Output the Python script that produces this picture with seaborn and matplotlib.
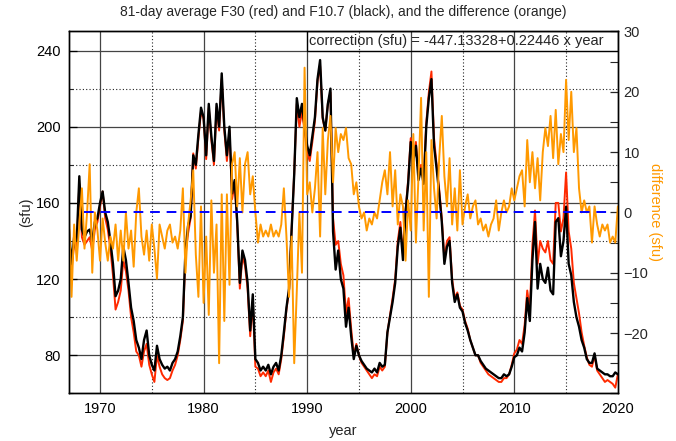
import numpy as np
import pandas as pd
import matplotlib
matplotlib.use("Agg")
import matplotlib.pyplot as plt
from matplotlib.patches import Rectangle
from matplotlib.ticker import MultipleLocator, FixedLocator
import seaborn as sns

# ---------------- data (quarterly samples) ----------------
year_start = 1967.0
year_step = 0.25

f107 = [
    146, 128, 142, 140,   174, 146, 142, 145,   146, 140, 150, 152,   160, 166, 155, 150,   # 1967-1970
    140, 128, 111, 114,   120, 137, 130, 118,   105, 98, 88, 84,      78, 88, 93, 80,       # 1971-1974
    75, 72, 85, 78,       75, 73, 74, 72,       76, 78, 82, 90,       100, 135, 148, 153,   # 1975-1978
    185, 180, 196, 210,   205, 185, 212, 195,   182, 212, 200, 228,   200, 185, 200, 165,   # 1979-1982
    172, 150, 118, 135,   130, 118, 93, 112,    78, 76, 72, 74,       72, 75, 70, 74,       # 1983-1986
    76, 72, 80, 92,       105, 115, 146, 175,   215, 205, 212, 200,   190, 185, 195, 205,   # 1987-1990
    225, 235, 205, 198,   212, 220, 145, 125,   135, 120, 115, 95,    105, 90, 78, 85,      # 1991-1994
    80, 77, 75, 73,       72, 71, 73, 71,       76, 74, 75, 92,       100, 108, 118, 137,   # 1995-1998
    147, 130, 155, 170,   192, 182, 190, 172,   178, 170, 200, 215,   225, 190, 178, 165,   # 1999-2002
    150, 128, 137, 140,   118, 108, 112, 105,   103, 97, 93, 88,      84, 80, 80, 77,       # 2003-2006
    75, 73, 72, 71,       70, 69, 68, 68,       70, 69, 70, 74,       79, 80, 84, 82,       # 2007-2010
    92, 110, 98, 130,     150, 115, 128, 120,   118, 126, 114, 112,   150, 152, 132, 140,   # 2011-2014
    158, 128, 122, 108,   100, 95, 88, 84,      78, 76, 76, 81,       73, 72, 71, 70,       # 2015-2018
    70, 69, 69, 71,       70,                                                             # 2019-2020
]

f30 = [
    144, 125, 138, 136,   170, 142, 138, 140,   142, 135, 146, 150,   158, 166, 152, 146,
    136, 122, 104, 108,   114, 130, 124, 114,   100, 92, 82, 80,      74, 82, 86, 75,
    70, 66, 80, 74,       70, 68, 67, 68,       72, 75, 80, 88,       98, 132, 144, 152,
    186, 178, 194, 208,   204, 183, 210, 193,   180, 210, 198, 225,   198, 182, 198, 162,
    170, 148, 115, 132,   127, 115, 90, 108,    74, 73, 69, 71,       69, 72, 66, 71,
    73, 70, 78, 90,       104, 114, 146, 176,   212, 200, 208, 198,   186, 182, 192, 203,
    224, 232, 204, 198,   212, 218, 152, 138,   140, 128, 122, 102,   110, 94, 80, 86,
    80, 76, 74, 72,       70, 68, 70, 69,       74, 72, 74, 92,       101, 110, 120, 140,
    150, 133, 156, 172,   194, 184, 192, 175,   180, 172, 202, 218,   229, 194, 180, 167,
    152, 130, 140, 142,   120, 110, 113, 106,   104, 98, 94, 88,      84, 80, 80, 76,
    74, 72, 70, 69,       68, 67, 66, 66,       68, 68, 70, 75,       81, 83, 88, 86,
    96, 114, 104, 138,    156, 128, 140, 136,   134, 140, 130, 128,   160, 160, 145, 152,
    176, 145, 136, 118,   110, 102, 92, 85,     79, 75, 74, 80,       72, 70, 68, 66,
    67, 66, 65, 63,       70,
]

difference = [
    0, -14, -2, -8,       -2, 4, -6, 0,         8, -10, 0, -3,        -8, -1, -5, -8,
    -4, -6, -2, -8,       -3, -8, 0, -6,        -3, -9, 0, 4,         -4, -7, -3, -8,
    -2, -6, -11, -2,      -4, -6, -3, -2,       -5, -4, -6, -3,       4, -10, -2, 2,
    7, -7, -14, 1,        -15, -4, -17, 2,      -10, -2, -25, 3,      -18, 3, -12, 8,
    10, 1, 9, 0,          8, 10, 3, 6,          0, -5, -2, -4,        -3, -4, -2, -4,
    -3, -4, -2, 4,        -4, -14, -4, -25,     -13, 0, -10, 24,      3, 5, 0, 4,
    10, -4, 14, 3,        12, 16, 5, 14,        10, 13, 12, 14,       9, 8, 3, 5,
    1, -1, 0, -3,         -1, -2, 0, -1,        2, 5, 7, 3,           10, 1, 7, -2,
    3, 1, -8, 2,          -3, 13, -5, 6,        19, -3, 10, -14,      12, 4, -1, 9,
    16, 6, 1, 9,          -2, 4, -3, 7,         -2, 1, 3, -1,         1, 2, -2, -1,
    -3, -2, -4, -2,       -1, 2, -3, 0,         2, 0, 1, 4,           2, 4, 6, 7,
    1, 12, 5, 10,         4, 9, 2, 10,          14, 11, 16, 9,        17, 8, 13, 10,
    22, 12, 20, 10,       14, 4, 0, 2,          0, 1, -5, 1,          -2, -4, -2, -3,
    -2, -5, -4, -5,       1,
]

n = min(len(f107), len(f30), len(difference))
years = year_start + year_step * np.arange(n)
df = pd.DataFrame({"year": years, "F30": f30[:n], "F10.7": f107[:n], "diff": difference[:n]})

zero_line_years = [1968.5, 2019.2]
zero_line_vals = [0, 0]

title = "81-day average F30 (red) and F10.7 (black), and the difference (orange)"
note = "correction (sfu) = -447.13328+0.22446 x year"

# ---------------- figure ----------------
sns.set_theme(style="white")
plt.rcParams["font.family"] = ["Liberation Sans", "DejaVu Sans"]
plt.rcParams["axes.unicode_minus"] = True

fig = plt.figure(figsize=(6.76, 4.41), dpi=100)
ax = fig.add_axes([0.102, 0.108, 0.812, 0.8206])
ax2 = ax.twinx()

fs = 10.5
ax.set_xlim(1967.0, 2020.0)
ax.set_ylim(60, 250)
ax2.set_ylim(-30, 30)

# grid
for yv in [80, 120, 160, 200, 240]:
    ax.axhline(yv, color="#444444", lw=0.9, zorder=0.5)
for yv in [100, 140, 180, 220]:
    ax.axhline(yv, color="#222222", lw=0.8, ls=(0, (1, 2)), zorder=0.5)
for xv in [1970, 1980, 1990, 2000, 2010]:
    ax.axvline(xv, color="#444444", lw=0.9, zorder=0.5)
for xv in [1975, 1985, 1995, 2005, 2015]:
    ax.axvline(xv, color="#222222", lw=0.8, ls=(0, (1, 2)), zorder=0.5)

sns.lineplot(data=df, x="year", y="F30", ax=ax, color="#ff2a00", lw=1.4,
             estimator=None, sort=False, zorder=2)
sns.lineplot(data=df, x="year", y="F10.7", ax=ax, color="black", lw=1.7,
             estimator=None, sort=False, zorder=3)
sns.lineplot(data=df, x="year", y="diff", ax=ax2, color="#ff9900", lw=1.4,
             estimator=None, sort=False, zorder=2)
ax2.plot(zero_line_years, zero_line_vals, color="#0000ff", lw=1.4,
         ls=(0, (5, 3.5)), zorder=3)

# annotation box
ax.add_patch(Rectangle((1990.0, 240), 2020.0 - 1990.0, 10, fill=False,
                       edgecolor="black", lw=0.9, zorder=4))
ax.text(1990.15, 245, note, fontsize=fs, va="center", ha="left", zorder=5)

# ticks
ax.xaxis.set_major_locator(FixedLocator([1970, 1980, 1990, 2000, 2010, 2020]))
ax.xaxis.set_minor_locator(MultipleLocator(5))
ax.yaxis.set_major_locator(FixedLocator([80, 120, 160, 200, 240]))
ax.yaxis.set_minor_locator(FixedLocator([60, 100, 140, 180, 220]))
ax2.yaxis.set_major_locator(FixedLocator([-30, -20, -10, 0, 10, 20, 30]))
ax2.yaxis.set_minor_locator(MultipleLocator(5))
ax2.set_yticklabels(["", "\u221220", "\u221210", "0", "10", "20", "30"])

ax.tick_params(axis="both", which="major", direction="in", length=6, width=0.9,
               labelsize=fs, colors="black", pad=6)
ax.tick_params(axis="both", which="minor", direction="in", length=3, width=0.8)
ax.tick_params(axis="y", which="both", right=False)
ax2.tick_params(axis="y", which="major", direction="in", length=6, width=0.9,
                labelsize=fs, pad=4)
ax2.tick_params(axis="y", which="minor", direction="in", length=6, width=0.8)

for a in (ax, ax2):
    for s in a.spines.values():
        s.set_color("black")
        s.set_linewidth(1.0)

ax.set_xlabel("year", fontsize=fs, labelpad=6)
ax.set_ylabel("(sfu)", fontsize=fs, labelpad=2)
ax2.set_ylabel("difference (sfu)", fontsize=fs, color="#ff9900", rotation=270,
               labelpad=10)
ax.set_title(title, fontsize=10, pad=11)

fig.savefig("out.png", dpi=100)
